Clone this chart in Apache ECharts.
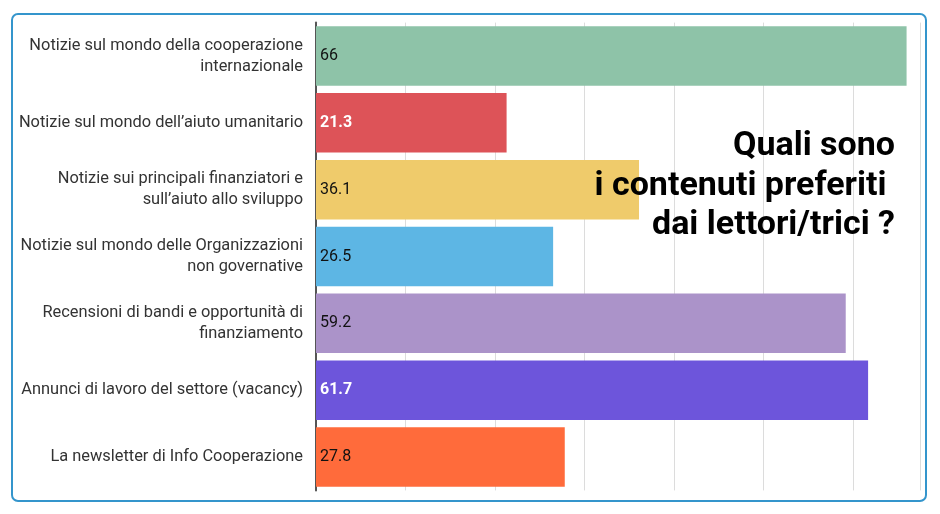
<!DOCTYPE html>
<html>
<head>
<meta charset="utf-8">
<script src="https://cdn.jsdelivr.net/npm/echarts@6/dist/echarts.min.js"></script>
<style>html,body{margin:0;padding:0;background:#fff}#c{width:940px;height:514px}</style>
</head>
<body>
<div id="c"></div>
<script>
var categories = [
  "Notizie sul mondo della cooperazione\ninternazionale",
  "Notizie sul mondo dell\u2019aiuto umanitario",
  "Notizie sui principali finanziatori e\nsull\u2019aiuto allo sviluppo",
  "Notizie sul mondo delle Organizzazioni\nnon governative",
  "Recensioni di bandi e opportunit\u00e0 di\nfinanziamento",
  "Annunci di lavoro del settore (vacancy)",
  "La newsletter di Info Cooperazione"
];
var values = [66, 21.3, 36.1, 26.5, 59.2, 61.7, 27.8];
var barColors = ["#8ec3a8", "#dd5358", "#efcb6b", "#5db6e4", "#ab93c9", "#6d55db", "#ff6b3b"];
var labelColors = ["#111", "#fff", "#111", "#111", "#111", "#fff", "#111"];
var labelWeights = ["normal", "bold", "normal", "normal", "normal", "bold", "normal"];
var titleText = "Quali sono\ni contenuti preferiti \ndai lettori/trici ?";

var chart = echarts.init(document.getElementById('c'), null, {renderer: 'canvas'});
var data = values.map(function (v, i) {
  return {
    value: v,
    itemStyle: {color: barColors[i]},
    label: {color: labelColors[i], fontWeight: labelWeights[i]}
  };
});
chart.setOption({
  animation: false,
  backgroundColor: '#fff',
  grid: {left: 316, right: 20, top: 22.6, height: 467.8},
  xAxis: {
    type: 'value',
    min: 0,
    max: 67.5,
    interval: 10,
    axisLabel: {show: false},
    axisTick: {show: false},
    axisLine: {show: false},
    splitLine: {lineStyle: {color: '#dcdcdc', width: 1}}
  },
  yAxis: {
    type: 'category',
    inverse: true,
    data: categories,
    axisTick: {show: false},
    axisLine: {lineStyle: {color: '#555', width: 2}},
    axisLabel: {
      fontFamily: 'Roboto',
      fontSize: 16.4,
      color: '#333',
      lineHeight: 21,
      margin: 13,
      align: 'right'
    }
  },
  series: [{
    type: 'bar',
    data: data,
    barCategoryGap: '11%',
    label: {
      show: true,
      position: 'insideLeft',
      distance: 4,
      fontFamily: 'Roboto',
      fontSize: 16
    }
  }],
  graphic: [{
    type: 'rect',
    shape: {x: 12, y: 14, width: 914, height: 487, r: 6},
    style: {fill: 'none', stroke: '#3495cc', lineWidth: 2},
    z: 100
  }, {
    type: 'text',
    x: 895,
    y: 127,
    z: 100,
    style: {
      text: titleText,
      textAlign: 'right',
      textVerticalAlign: 'top',
      font: 'bold 34px Roboto',
      lineHeight: 39.5,
      fill: '#000'
    }
  }]
});
</script>
</body>
</html>
